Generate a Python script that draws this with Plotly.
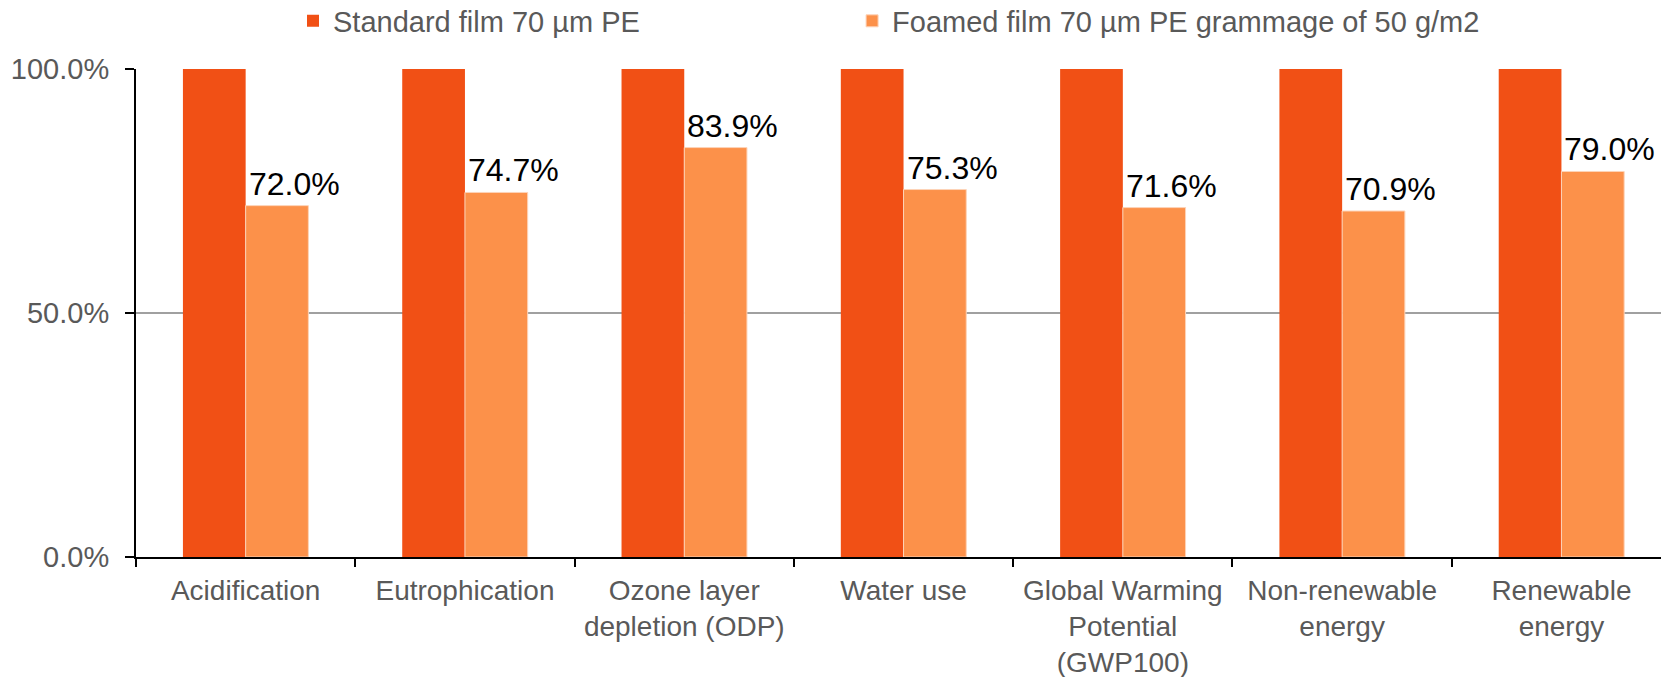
import plotly.graph_objects as go

categories = ["Acidification", "Eutrophication", "Ozone layer<br>depletion (ODP)", "Water use",
              "Global Warming<br>Potential<br>(GWP100)", "Non-renewable<br>energy", "Renewable<br>energy"]
standard_values = [100.0, 100.0, 100.0, 100.0, 100.0, 100.0, 100.0]
foamed_values = [72.0, 74.7, 83.9, 75.3, 71.6, 70.9, 79.0]
series_names = ["Standard film 70 µm PE", "Foamed film 70 µm PE grammage of 50 g/m2"]
ytick_values = [0, 50, 100]

DARK = "#F15015"
LIGHT = "#FC914A"
GRAY = "#595959"
FONT = "Liberation Sans, Arial, sans-serif"

fig = go.Figure()
fig.add_trace(go.Bar(x=categories, y=standard_values, name=series_names[0],
                     marker=dict(color=DARK, line=dict(width=0)), legend="legend"))
fig.add_trace(go.Bar(x=categories, y=foamed_values, name=series_names[1],
                     marker=dict(color=LIGHT, line=dict(color="#FDD3B8", width=1)), legend="legend2"))

for c, v in zip(categories, foamed_values):
    fig.add_annotation(x=c, y=v, text=f"{v:.1f}%", showarrow=False,
                       xanchor="left", yanchor="bottom", xshift=1, yshift=2,
                       font=dict(family=FONT, size=32, color="#000000"))

legend_common = dict(orientation="h", xanchor="left", yanchor="middle",
                     xref="container", yref="container", y=0.969,
                     font=dict(family=FONT, size=29, color=GRAY),
                     bgcolor="rgba(0,0,0,0)", itemclick=False, itemdoubleclick=False)

fig.update_layout(
    width=1661, height=677,
    margin=dict(l=136, r=0, t=69, b=120, autoexpand=False),
    paper_bgcolor="white", plot_bgcolor="white",
    barmode="group", bargap=0.428, bargroupgap=0,
    font=dict(family=FONT, size=29, color=GRAY),
    showlegend=True,
    legend=dict(x=0.1764, **legend_common),
    legend2=dict(x=0.513, **legend_common),
)
fig.update_xaxes(
    type="category", range=[-0.5, 6.454], showline=True, linecolor="black", linewidth=2,
    ticks="outside", tickson="boundaries", ticklen=8, tickwidth=2, tickcolor="black",
    showgrid=False, automargin=False, ticklabelstandoff=7,
    tickfont=dict(family=FONT, size=28, color=GRAY),
)
fig.update_yaxes(
    range=[0, 100], tickvals=ytick_values, ticktext=[f"{t:.1f}%" for t in ytick_values],
    showline=True, linecolor="black", linewidth=2,
    ticks="outside", ticklen=9, tickwidth=2, tickcolor="black",
    showgrid=True, gridcolor="#A0A0A0", gridwidth=2, zeroline=False,
    ticklabelstandoff=10, automargin=False,
    tickfont=dict(family=FONT, size=29, color=GRAY),
)

fig.write_html("out.html", config={"displayModeBar": False},
               post_script="document.body.style.margin='0';document.body.style.overflow='hidden';")
